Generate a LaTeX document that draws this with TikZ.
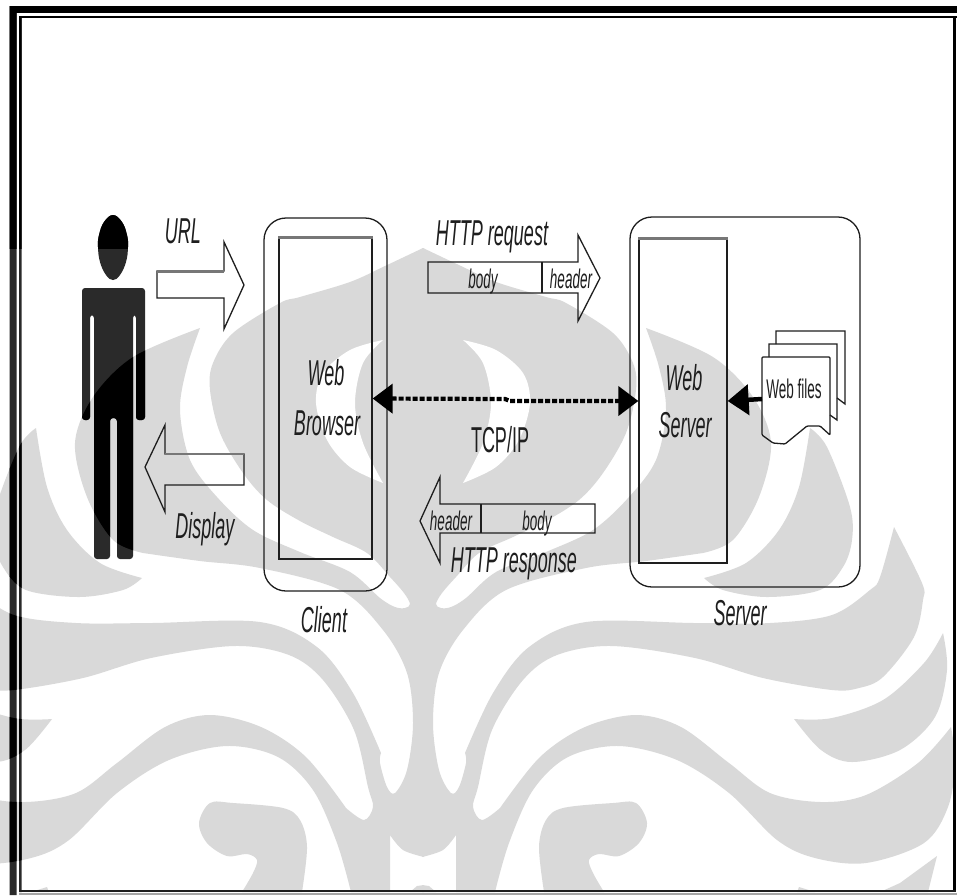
\documentclass[tikz,border=0pt]{standalone}
\usepackage{graphicx}
\usepackage{fontspec}
\setmainfont{Liberation Sans}
\usetikzlibrary{arrows.meta}
\definecolor{wmgray}{HTML}{D9D9D9}
\definecolor{mandark}{HTML}{2A2A2A}
\definecolor{inkc}{HTML}{1E1E1E}
\definecolor{blurline}{HTML}{777777}
\newcommand\sq[1]{\scalebox{.5}[1]{#1}}
\tikzset{
  biglab/.style={inner sep=0pt,anchor=base,text=inkc,font=\fontsize{36}{36}\selectfont\itshape},
  biglabup/.style={inner sep=0pt,anchor=base,text=inkc,font=\fontsize{36}{36}\selectfont},
  smalllab/.style={inner sep=0pt,anchor=base,text=inkc,font=\fontsize{27}{27}\selectfont\itshape},
  smalllabup/.style={inner sep=0pt,anchor=base,text=inkc,font=\fontsize{27}{27}\selectfont},
  outline/.style={draw=inkc,line width=1.3pt},
  blockbox/.style={outline,inner sep=0pt},
  blurtop/.style={draw=blurline,line width=3.5pt},
  flow/.style={draw=black,line width=4.2pt,dash pattern=on 5pt off 2pt,
     {Triangle[length=20pt,width=29pt]}-{Triangle[length=20pt,width=29pt]}},
  solidflow/.style={draw=black,line width=4.5pt,-{Triangle[length=21pt,width=30pt]}}
}
% left half of the watermark
\def\wmHalf{(424,248) -- plot[smooth,tension=.55] coordinates{(423,248)(385,266)(350,282)(300,297)(280,303)(233,333)(213,363)(210,390)(220,433)(243,473)(267,500)(300,521)(333,537)(367,553)(390,577)(404,593)(410,604)(405,608)(395,607)(380,598)(350,572)(300,552)(253,530)(217,497)(190,460)(180,410)(187,367)(200,328)}
 -- plot[smooth,tension=.55] coordinates{(200,328)(133,357)(93,397)(75,443)(87,497)(113,540)(143,553)}
 -- plot[smooth,tension=.55] coordinates{(143,553)(200,561)(260,568)(340,590)(383,630)(407,673)(413,723)(407,770)(395,793)(387,787)(380,763)(381,753)}
 -- plot[smooth,tension=.55] coordinates{(381,753)(353,693)(317,647)(260,622)(151,623)(76,623)(14,615)(-24,590)(-34,577)(-48,527)}
 -- plot[smooth,tension=.55] coordinates{(-48,527)(-76,583)(-77,600)(-68,637)(-37,677)(-13,688)(14,690)(83,678)(151,658)(234,646)(289,655)(323,680)(354,730)(368,787)(373,807)(364,820)(346,808)}
 -- plot[smooth,tension=.55] coordinates{(346,808)(306,757)(261,727)(210,715)(165,727)(117,763)(76,793)(25,802)(-20,795)(-72,763)(-105,727)}
 -- plot[smooth,tension=.55] coordinates{(-105,727)(-109,763)(-102,807)(-78,843)(-20,863)(31,858)(69,840)(117,793)(169,760)(227,746)(278,757)(313,790)(337,843)(351,892)}
 -- (390,892) -- plot[smooth,tension=.55] coordinates{(390,835)(403,850)(424,857)} -- cycle}
\def\wmD{plot[smooth,tension=.55] coordinates{(36,428)(47,487)(67,530)(100,563)(142,578)}
 -- plot[smooth,tension=.55] coordinates{(142,578)(123,590)(79,597)(26,590)(3,567)(-6,540)(-4,507)(19,447)(36,428)} -- cycle}
\def\wmE{plot[smooth,tension=.55] coordinates{(52,719)(14,718)(-37,700)(-78,663)(-97,633)}
 -- plot[smooth,tension=.55] coordinates{(-97,633)(-101,670)(-89,717)(-54,750)(-6,762)(25,750)(52,719)} -- cycle}
\def\wmL{plot[smooth,tension=.55] coordinates{(242,892)(253,873)(257,860)(247,854)(227,856)(207,843)(199,823)(210,803)(233,803)(283,808)(300,820)(307,847)(302,892)} -- cycle}
\def\wmSmall{(31,892) -- (47,887) -- (49,892) -- cycle (-34,892) -- (-54,883) -- (-91,856) -- (-82,892) -- cycle (424,885) -- (417,886) -- (410,892) -- (424,892) -- cycle}
\def\wmCres{plot[smooth,tension=.55] coordinates{(383,340)(350,350)(323,373)(316,403)(327,440)(350,467)(383,483)}
 -- plot[smooth,tension=.55] coordinates{(383,483)(363,443)(355,403)(363,363)(383,340)} -- cycle}
\def\wmAll{\fill[wmgray] \wmHalf; \fill[wmgray] \wmD; \fill[wmgray] \wmE; \fill[wmgray] \wmL; \fill[wmgray] \wmSmall; \fill[white] \wmCres;}
% person
\def\manBody{[rounded corners=3pt] (82,288) -- (82,420) -- (90,420) -- (90,315) -- (94,315) -- (94,559) -- (110,559) -- (110,418) -- (117,418) -- (117,559) -- (133,559) -- (133,315) -- (136,315) -- (136,420) -- (145,420) -- (145,288) -- cycle}
\def\manHead{plot[smooth cycle,tension=.7] coordinates{(113,215)(122,222)(127,235)(128,247)(126,262)(120,275)(113,280)(106,275)(100,262)(98,247)(99,235)(104,222)}}
\def\leftBars{(9.5,6) rectangle (16.5,895) (19,16) rectangle (21.5,892)}
\begin{document}
\begin{tikzpicture}[x=1pt,y=-1pt]
\useasboundingbox (0,0) rectangle (957,895);
\fill[white] (0,0) rectangle (957,895);
% watermark
\begin{scope}
  \clip (0,0) rectangle (955,892);
  \wmAll
  \begin{scope}[shift={(846,0)},xscale=-1]
    \wmAll
  \end{scope}
\end{scope}
% person and left border, darker over the watermark
\fill[mandark] \manBody;
\fill[mandark] \manHead;
\fill[mandark] \leftBars;
\begin{scope}
  \clip (0,0) rectangle (957,248);
  \fill[black] \manHead;
  \fill[black] \leftBars;
\end{scope}
\begin{scope}
  \clip \wmHalf;
  \fill[black] \manBody;
\end{scope}
\begin{scope}
  \clip \wmD;
  \fill[black] \manBody;
  \fill[black] \leftBars;
\end{scope}
\begin{scope}
  \clip (0,500) rectangle (30,892);
  \clip \wmHalf;
  \fill[black] \leftBars;
\end{scope}
\begin{scope}
  \clip \wmE;
  \fill[black] \leftBars;
\end{scope}
% frame
\fill[black] (9.5,6) rectangle (957,13);
\fill[black] (19,16) rectangle (957,18.3);
\fill[black] (953,16) rectangle (955.5,892);
\fill[inkc] (19,890) rectangle (955.5,892);
\fill[gray!70] (19,893) rectangle (957,895);
% client and server
\node[blockbox,rounded corners=22pt,minimum width=123pt,minimum height=373pt] (client) at (325.5,404.5) {};
\node[blockbox,minimum width=93pt,minimum height=321pt] (browser) at (325.5,398.5) {};
\draw[blurtop] (browser.north west) -- (browser.north east);
\node[blockbox,rounded corners=22pt,minimum width=230pt,minimum height=370pt] (serverbox) at (745,402) {};
\node[blockbox,minimum width=88pt,minimum height=324pt] (webserver) at (683,401) {};
\draw[blurtop] (webserver.north west) -- (webserver.north east);
% URL arrow
\draw[outline] (157,271) -- (224,271) -- (224,242) -- (244,285) -- (224,329) -- (224,298) -- (157,298) -- cycle;
\draw[blurline,line width=3pt] (157,271) -- (224,271);
% Display arrow
\draw[outline] (244,454) -- (165,454) -- (165,425) -- (145,467) -- (165,512) -- (165,485) -- (244,485) -- cycle;
\draw[blurline,line width=2.5pt] (165,454) -- (244,454);
% HTTP request arrow
\draw[outline] (428,262) -- (578,262) -- (578,235) -- (600,278) -- (578,321) -- (578,293) -- (428,293) -- cycle;
\draw[outline] (542,262) -- (542,293);
% HTTP response arrow
\draw[outline] (595,504) -- (440,504) -- (440,477) -- (420,521) -- (440,563) -- (440,533) -- (595,533) -- cycle;
\draw[outline] (481,504) -- (481,533);
% documents
\draw[outline] (776,344) -- (776,331) -- (845,331) -- (845,404) -- (837,398);
\draw[outline] (769,357) -- (769,344) -- (837,344) -- (837,420) -- (830,415);
\draw[outline,rounded corners=1pt] (762,435) -- (762,357) -- (830,357) -- (830,435) -- (820,426) -- (807,426) -- (785,444) -- (773,443) -- cycle;
% connectors
\coordinate (kink) at (505,399);
\coordinate (kinkb) at (510,401);
\coordinate (docedge) at (762,399);
\draw[flow] (browser.east) -- (kink) -- (kinkb) -- (webserver.west);
\draw[solidflow] (docedge) -- (webserver.east);
% labels
\node[biglab] (lurl) at (183,243) {\sq{URL}};
\node[biglab] (lweb) at (326,385) {\sq{Web}};
\node[biglab] (lbrowser) at (327,435) {\sq{Browser}};
\node[biglab] (ldisplay) at (205,538) {\sq{Display}};
\node[biglab] (lclient) at (324,632) {\sq{Client}};
\node[biglab] (lreq) at (492,245) {\sq{HTTP request}};
\node[smalllab] (lbody) at (483,288) {\sq{body}};
\node[smalllab] (lheader) at (571,288) {\sq{header}};
\node[biglabup] (ltcp) at (500,452) {\sq{TCP/IP}};
\node[smalllab] (lheadertwo) at (451,530) {\sq{header}};
\node[smalllab] (lbodytwo) at (537,530) {\sq{body}};
\node[biglab] (lresp) at (514,572) {\sq{HTTP response}};
\node[biglab] (lwebs) at (684,390) {\sq{Web}};
\node[biglab] (lserver) at (685,437) {\sq{Server}};
\node[biglab] (lserverbox) at (740,625) {\sq{Server}};
\node[smalllabup] (lfiles) at (794,398) {\sq{Web files}};
\end{tikzpicture}
\end{document}
